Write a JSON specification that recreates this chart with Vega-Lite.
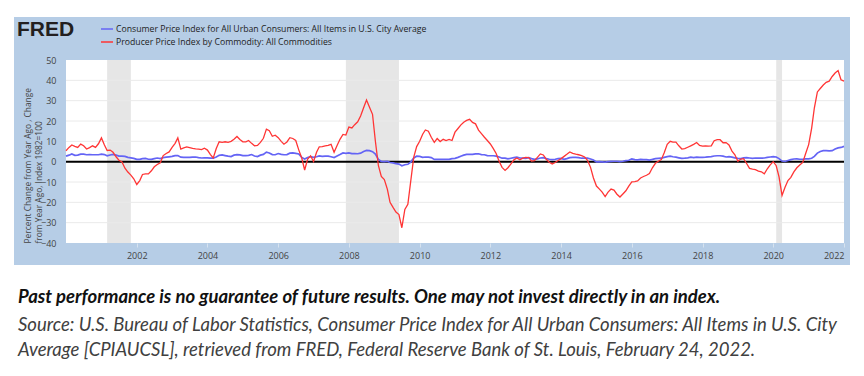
{
  "$schema": "https://vega.github.io/schema/vega-lite/v6.json",
  "width": 778,
  "height": 183,
  "autosize": {"type": "none"},
  "padding": {"left": 66, "top": 60, "right": 20, "bottom": 133},
  "background": "white",
  "view": {"stroke": null, "fill": "white"},
  "config": {
    "font": "Open Sans",
    "axisY": {"tickCount": 10, "labelOverlap": false, "grid": false, "ticks": false, "domain": false},
    "axisX": {"labelOverlap": false, "grid": false, "domain": false}
  },
  "title": {
    "text": "Past performance is no guarantee of future results. One may not invest directly in an index.",
    "subtitle": ["Source: U.S. Bureau of Labor Statistics, Consumer Price Index for All Urban Consumers: All Items in U.S. City", "Average [CPIAUCSL], retrieved from FRED, Federal Reserve Bank of St. Louis, February 24, 2022."],
    "orient": "bottom", "anchor": "start", "frame": "bounds", "offset": 23, "dx": 4,
    "font": "Lato", "fontSize": 18.5, "fontStyle": "italic", "fontWeight": "bold", "color": "#111111",
    "subtitleFont": "Lato", "subtitleFontSize": 18.5, "subtitleFontStyle": "italic", "subtitleFontWeight": "normal",
    "subtitleColor": "#404040", "subtitleLineHeight": 25, "subtitlePadding": 9
  },
  "datasets": {
    "series": [
      {"date":"2000-01-01","cpi":2.7,"ppi":5.4},{"date":"2000-02-01","cpi":3.2,"ppi":7.0},{"date":"2000-03-01","cpi":3.8,"ppi":8.2},{"date":"2000-04-01","cpi":3.1,"ppi":7.5},{"date":"2000-05-01","cpi":3.2,"ppi":7.0},{"date":"2000-06-01","cpi":3.7,"ppi":8.6},{"date":"2000-07-01","cpi":3.7,"ppi":7.8},{"date":"2000-08-01","cpi":3.4,"ppi":6.2},{"date":"2000-09-01","cpi":3.5,"ppi":6.9},{"date":"2000-10-01","cpi":3.4,"ppi":7.8},{"date":"2000-11-01","cpi":3.4,"ppi":7.0},{"date":"2000-12-01","cpi":3.4,"ppi":8.8},
      {"date":"2001-01-01","cpi":3.7,"ppi":11.7},{"date":"2001-02-01","cpi":3.5,"ppi":8.2},{"date":"2001-03-01","cpi":2.9,"ppi":5.5},{"date":"2001-04-01","cpi":3.3,"ppi":5.7},{"date":"2001-05-01","cpi":3.6,"ppi":4.6},{"date":"2001-06-01","cpi":3.2,"ppi":2.4},{"date":"2001-07-01","cpi":2.7,"ppi":0.7},{"date":"2001-08-01","cpi":2.7,"ppi":-0.1},{"date":"2001-09-01","cpi":2.6,"ppi":-3.2},{"date":"2001-10-01","cpi":2.1,"ppi":-5.1},{"date":"2001-11-01","cpi":1.9,"ppi":-6.6},{"date":"2001-12-01","cpi":1.6,"ppi":-8.4},
      {"date":"2002-01-01","cpi":1.1,"ppi":-11.2},{"date":"2002-02-01","cpi":1.1,"ppi":-9.3},{"date":"2002-03-01","cpi":1.5,"ppi":-6.3},{"date":"2002-04-01","cpi":1.6,"ppi":-6.0},{"date":"2002-05-01","cpi":1.2,"ppi":-6.0},{"date":"2002-06-01","cpi":1.1,"ppi":-4.5},{"date":"2002-07-01","cpi":1.5,"ppi":-2.5},{"date":"2002-08-01","cpi":1.8,"ppi":-1.4},{"date":"2002-09-01","cpi":1.5,"ppi":-0.5},{"date":"2002-10-01","cpi":2.0,"ppi":3.0},{"date":"2002-11-01","cpi":2.2,"ppi":4.0},{"date":"2002-12-01","cpi":2.4,"ppi":4.8},
      {"date":"2003-01-01","cpi":2.6,"ppi":7.0},{"date":"2003-02-01","cpi":3.0,"ppi":9.0},{"date":"2003-03-01","cpi":3.0,"ppi":11.7},{"date":"2003-04-01","cpi":2.2,"ppi":6.2},{"date":"2003-05-01","cpi":2.1,"ppi":6.8},{"date":"2003-06-01","cpi":2.1,"ppi":7.3},{"date":"2003-07-01","cpi":2.1,"ppi":6.9},{"date":"2003-08-01","cpi":2.2,"ppi":6.5},{"date":"2003-09-01","cpi":2.3,"ppi":6.3},{"date":"2003-10-01","cpi":2.0,"ppi":6.2},{"date":"2003-11-01","cpi":1.8,"ppi":5.9},{"date":"2003-12-01","cpi":1.9,"ppi":6.6},
      {"date":"2004-01-01","cpi":1.9,"ppi":5.7},{"date":"2004-02-01","cpi":1.7,"ppi":3.5},{"date":"2004-03-01","cpi":1.7,"ppi":1.8},{"date":"2004-04-01","cpi":2.3,"ppi":6.5},{"date":"2004-05-01","cpi":3.1,"ppi":9.8},{"date":"2004-06-01","cpi":3.3,"ppi":9.5},{"date":"2004-07-01","cpi":3.0,"ppi":9.8},{"date":"2004-08-01","cpi":2.7,"ppi":9.5},{"date":"2004-09-01","cpi":2.5,"ppi":10.0},{"date":"2004-10-01","cpi":3.2,"ppi":11.0},{"date":"2004-11-01","cpi":3.5,"ppi":12.4},{"date":"2004-12-01","cpi":3.3,"ppi":10.9},
      {"date":"2005-01-01","cpi":3.0,"ppi":9.8},{"date":"2005-02-01","cpi":3.0,"ppi":9.7},{"date":"2005-03-01","cpi":3.1,"ppi":10.4},{"date":"2005-04-01","cpi":3.5,"ppi":9.0},{"date":"2005-05-01","cpi":2.8,"ppi":7.8},{"date":"2005-06-01","cpi":2.5,"ppi":8.0},{"date":"2005-07-01","cpi":3.2,"ppi":9.5},{"date":"2005-08-01","cpi":3.6,"ppi":11.5},{"date":"2005-09-01","cpi":4.7,"ppi":16.0},{"date":"2005-10-01","cpi":4.3,"ppi":15.2},{"date":"2005-11-01","cpi":3.5,"ppi":12.5},{"date":"2005-12-01","cpi":3.4,"ppi":13.0},
      {"date":"2006-01-01","cpi":4.0,"ppi":11.8},{"date":"2006-02-01","cpi":3.6,"ppi":10.0},{"date":"2006-03-01","cpi":3.4,"ppi":8.6},{"date":"2006-04-01","cpi":3.5,"ppi":9.7},{"date":"2006-05-01","cpi":4.2,"ppi":11.8},{"date":"2006-06-01","cpi":4.3,"ppi":11.4},{"date":"2006-07-01","cpi":4.1,"ppi":10.4},{"date":"2006-08-01","cpi":3.8,"ppi":5.8},{"date":"2006-09-01","cpi":2.1,"ppi":1.8},{"date":"2006-10-01","cpi":1.3,"ppi":-4.1},{"date":"2006-11-01","cpi":2.0,"ppi":1.3},{"date":"2006-12-01","cpi":2.5,"ppi":2.9},
      {"date":"2007-01-01","cpi":2.1,"ppi":0.0},{"date":"2007-02-01","cpi":2.4,"ppi":4.6},{"date":"2007-03-01","cpi":2.8,"ppi":7.3},{"date":"2007-04-01","cpi":2.6,"ppi":7.4},{"date":"2007-05-01","cpi":2.7,"ppi":7.8},{"date":"2007-06-01","cpi":2.7,"ppi":8.0},{"date":"2007-07-01","cpi":2.4,"ppi":8.5},{"date":"2007-08-01","cpi":2.0,"ppi":4.6},{"date":"2007-09-01","cpi":2.8,"ppi":8.0},{"date":"2007-10-01","cpi":3.5,"ppi":11.0},{"date":"2007-11-01","cpi":4.3,"ppi":13.4},{"date":"2007-12-01","cpi":4.1,"ppi":13.1},
      {"date":"2008-01-01","cpi":4.3,"ppi":17.0},{"date":"2008-02-01","cpi":4.0,"ppi":16.6},{"date":"2008-03-01","cpi":4.0,"ppi":18.2},{"date":"2008-04-01","cpi":3.9,"ppi":19.6},{"date":"2008-05-01","cpi":4.2,"ppi":22.5},{"date":"2008-06-01","cpi":5.0,"ppi":26.5},{"date":"2008-07-01","cpi":5.5,"ppi":30.3},{"date":"2008-08-01","cpi":5.4,"ppi":26.8},{"date":"2008-09-01","cpi":4.9,"ppi":23.3},{"date":"2008-10-01","cpi":3.7,"ppi":9.9},{"date":"2008-11-01","cpi":1.1,"ppi":-2.0},{"date":"2008-12-01","cpi":0.1,"ppi":-7.3},
      {"date":"2009-01-01","cpi":0.0,"ppi":-8.8},{"date":"2009-02-01","cpi":0.2,"ppi":-13.5},{"date":"2009-03-01","cpi":-0.4,"ppi":-20.0},{"date":"2009-04-01","cpi":-0.6,"ppi":-22.5},{"date":"2009-05-01","cpi":-1.0,"ppi":-24.8},{"date":"2009-06-01","cpi":-1.2,"ppi":-26.0},{"date":"2009-07-01","cpi":-2.0,"ppi":-32.5},{"date":"2009-08-01","cpi":-1.5,"ppi":-23.5},{"date":"2009-09-01","cpi":-1.3,"ppi":-21.0},{"date":"2009-10-01","cpi":-0.2,"ppi":-9.5},{"date":"2009-11-01","cpi":1.8,"ppi":2.2},{"date":"2009-12-01","cpi":2.7,"ppi":7.4},
      {"date":"2010-01-01","cpi":2.6,"ppi":10.0},{"date":"2010-02-01","cpi":2.1,"ppi":13.5},{"date":"2010-03-01","cpi":2.3,"ppi":15.6},{"date":"2010-04-01","cpi":2.2,"ppi":15.0},{"date":"2010-05-01","cpi":2.0,"ppi":12.0},{"date":"2010-06-01","cpi":1.1,"ppi":9.5},{"date":"2010-07-01","cpi":1.2,"ppi":11.4},{"date":"2010-08-01","cpi":1.1,"ppi":9.9},{"date":"2010-09-01","cpi":1.1,"ppi":11.0},{"date":"2010-10-01","cpi":1.2,"ppi":10.4},{"date":"2010-11-01","cpi":1.1,"ppi":10.9},{"date":"2010-12-01","cpi":1.5,"ppi":10.4},
      {"date":"2011-01-01","cpi":1.6,"ppi":14.5},{"date":"2011-02-01","cpi":2.1,"ppi":16.3},{"date":"2011-03-01","cpi":2.7,"ppi":18.0},{"date":"2011-04-01","cpi":3.2,"ppi":19.4},{"date":"2011-05-01","cpi":3.6,"ppi":20.3},{"date":"2011-06-01","cpi":3.6,"ppi":20.8},{"date":"2011-07-01","cpi":3.6,"ppi":19.3},{"date":"2011-08-01","cpi":3.8,"ppi":18.6},{"date":"2011-09-01","cpi":3.9,"ppi":15.5},{"date":"2011-10-01","cpi":3.5,"ppi":13.8},{"date":"2011-11-01","cpi":3.4,"ppi":12.0},{"date":"2011-12-01","cpi":3.0,"ppi":10.4},
      {"date":"2012-01-01","cpi":2.9,"ppi":8.7},{"date":"2012-02-01","cpi":2.9,"ppi":6.4},{"date":"2012-03-01","cpi":2.7,"ppi":4.0},{"date":"2012-04-01","cpi":2.3,"ppi":0.2},{"date":"2012-05-01","cpi":1.7,"ppi":-2.8},{"date":"2012-06-01","cpi":1.7,"ppi":-4.3},{"date":"2012-07-01","cpi":1.4,"ppi":-3.0},{"date":"2012-08-01","cpi":1.7,"ppi":-1.1},{"date":"2012-09-01","cpi":2.0,"ppi":0.9},{"date":"2012-10-01","cpi":2.2,"ppi":1.8},{"date":"2012-11-01","cpi":1.8,"ppi":0.9},{"date":"2012-12-01","cpi":1.7,"ppi":1.7},
      {"date":"2013-01-01","cpi":1.6,"ppi":2.1},{"date":"2013-02-01","cpi":2.0,"ppi":2.0},{"date":"2013-03-01","cpi":1.5,"ppi":0.3},{"date":"2013-04-01","cpi":1.1,"ppi":0.5},{"date":"2013-05-01","cpi":1.4,"ppi":2.1},{"date":"2013-06-01","cpi":1.8,"ppi":3.8},{"date":"2013-07-01","cpi":2.0,"ppi":3.3},{"date":"2013-08-01","cpi":1.5,"ppi":1.2},{"date":"2013-09-01","cpi":1.2,"ppi":-0.3},{"date":"2013-10-01","cpi":1.0,"ppi":-1.1},{"date":"2013-11-01","cpi":1.2,"ppi":-0.4},{"date":"2013-12-01","cpi":1.5,"ppi":0.6},
      {"date":"2014-01-01","cpi":1.6,"ppi":1.5},{"date":"2014-02-01","cpi":1.1,"ppi":2.6},{"date":"2014-03-01","cpi":1.5,"ppi":3.6},{"date":"2014-04-01","cpi":2.0,"ppi":4.8},{"date":"2014-05-01","cpi":2.1,"ppi":4.1},{"date":"2014-06-01","cpi":2.1,"ppi":3.7},{"date":"2014-07-01","cpi":2.0,"ppi":3.4},{"date":"2014-08-01","cpi":1.7,"ppi":3.0},{"date":"2014-09-01","cpi":1.7,"ppi":2.3},{"date":"2014-10-01","cpi":1.7,"ppi":0.6},{"date":"2014-11-01","cpi":1.3,"ppi":-2.8},{"date":"2014-12-01","cpi":0.8,"ppi":-8.0},
      {"date":"2015-01-01","cpi":-0.1,"ppi":-12.0},{"date":"2015-02-01","cpi":0.0,"ppi":-13.5},{"date":"2015-03-01","cpi":-0.1,"ppi":-15.0},{"date":"2015-04-01","cpi":-0.2,"ppi":-17.2},{"date":"2015-05-01","cpi":0.0,"ppi":-15.0},{"date":"2015-06-01","cpi":0.1,"ppi":-13.5},{"date":"2015-07-01","cpi":0.2,"ppi":-14.0},{"date":"2015-08-01","cpi":0.2,"ppi":-16.0},{"date":"2015-09-01","cpi":0.0,"ppi":-17.4},{"date":"2015-10-01","cpi":0.2,"ppi":-15.9},{"date":"2015-11-01","cpi":0.5,"ppi":-14.3},{"date":"2015-12-01","cpi":0.7,"ppi":-12.0},
      {"date":"2016-01-01","cpi":1.4,"ppi":-9.9},{"date":"2016-02-01","cpi":1.0,"ppi":-9.8},{"date":"2016-03-01","cpi":0.9,"ppi":-9.5},{"date":"2016-04-01","cpi":1.1,"ppi":-8.0},{"date":"2016-05-01","cpi":1.0,"ppi":-7.3},{"date":"2016-06-01","cpi":1.0,"ppi":-6.7},{"date":"2016-07-01","cpi":0.8,"ppi":-5.8},{"date":"2016-08-01","cpi":1.1,"ppi":-3.0},{"date":"2016-09-01","cpi":1.5,"ppi":-0.8},{"date":"2016-10-01","cpi":1.6,"ppi":0.2},{"date":"2016-11-01","cpi":1.7,"ppi":1.0},{"date":"2016-12-01","cpi":2.1,"ppi":4.4},
      {"date":"2017-01-01","cpi":2.5,"ppi":8.5},{"date":"2017-02-01","cpi":2.7,"ppi":10.0},{"date":"2017-03-01","cpi":2.4,"ppi":9.6},{"date":"2017-04-01","cpi":2.2,"ppi":9.6},{"date":"2017-05-01","cpi":1.9,"ppi":7.8},{"date":"2017-06-01","cpi":1.6,"ppi":6.2},{"date":"2017-07-01","cpi":1.7,"ppi":6.4},{"date":"2017-08-01","cpi":1.9,"ppi":7.1},{"date":"2017-09-01","cpi":2.2,"ppi":7.8},{"date":"2017-10-01","cpi":2.0,"ppi":8.5},{"date":"2017-11-01","cpi":2.2,"ppi":9.4},{"date":"2017-12-01","cpi":2.1,"ppi":8.0},
      {"date":"2018-01-01","cpi":2.1,"ppi":7.6},{"date":"2018-02-01","cpi":2.2,"ppi":7.8},{"date":"2018-03-01","cpi":2.4,"ppi":7.6},{"date":"2018-04-01","cpi":2.5,"ppi":7.8},{"date":"2018-05-01","cpi":2.8,"ppi":10.3},{"date":"2018-06-01","cpi":2.9,"ppi":10.8},{"date":"2018-07-01","cpi":2.9,"ppi":10.8},{"date":"2018-08-01","cpi":2.7,"ppi":9.3},{"date":"2018-09-01","cpi":2.3,"ppi":9.4},{"date":"2018-10-01","cpi":2.5,"ppi":8.2},{"date":"2018-11-01","cpi":2.2,"ppi":5.2},{"date":"2018-12-01","cpi":1.9,"ppi":3.4},
      {"date":"2019-01-01","cpi":1.6,"ppi":0.2},{"date":"2019-02-01","cpi":1.5,"ppi":1.3},{"date":"2019-03-01","cpi":1.9,"ppi":1.5},{"date":"2019-04-01","cpi":2.0,"ppi":-0.9},{"date":"2019-05-01","cpi":1.8,"ppi":-3.3},{"date":"2019-06-01","cpi":1.6,"ppi":-3.7},{"date":"2019-07-01","cpi":1.8,"ppi":-3.9},{"date":"2019-08-01","cpi":1.7,"ppi":-4.6},{"date":"2019-09-01","cpi":1.7,"ppi":-5.0},{"date":"2019-10-01","cpi":1.8,"ppi":-6.0},{"date":"2019-11-01","cpi":2.1,"ppi":-3.5},{"date":"2019-12-01","cpi":2.3,"ppi":-1.6},
      {"date":"2020-01-01","cpi":2.5,"ppi":0.0},{"date":"2020-02-01","cpi":2.3,"ppi":-2.0},{"date":"2020-03-01","cpi":1.5,"ppi":-7.5},{"date":"2020-04-01","cpi":0.3,"ppi":-16.6},{"date":"2020-05-01","cpi":0.1,"ppi":-12.7},{"date":"2020-06-01","cpi":0.6,"ppi":-9.3},{"date":"2020-07-01","cpi":1.0,"ppi":-7.7},{"date":"2020-08-01","cpi":1.3,"ppi":-5.0},{"date":"2020-09-01","cpi":1.4,"ppi":-3.0},{"date":"2020-10-01","cpi":1.2,"ppi":-1.6},{"date":"2020-11-01","cpi":1.2,"ppi":-0.4},{"date":"2020-12-01","cpi":1.4,"ppi":4.0},
      {"date":"2021-01-01","cpi":1.4,"ppi":8.4},{"date":"2021-02-01","cpi":1.7,"ppi":16.5},{"date":"2021-03-01","cpi":2.6,"ppi":26.5},{"date":"2021-04-01","cpi":4.2,"ppi":34.3},{"date":"2021-05-01","cpi":5.0,"ppi":36.0},{"date":"2021-06-01","cpi":5.4,"ppi":37.7},{"date":"2021-07-01","cpi":5.4,"ppi":39.0},{"date":"2021-08-01","cpi":5.3,"ppi":39.6},{"date":"2021-09-01","cpi":5.4,"ppi":41.9},{"date":"2021-10-01","cpi":6.2,"ppi":43.6},{"date":"2021-11-01","cpi":6.8,"ppi":44.8},{"date":"2021-12-01","cpi":7.0,"ppi":40.3},
      {"date":"2022-01-01","cpi":7.5,"ppi":39.6}
    ],
    "recessions": [
      {"start":"2001-03-01","end":"2001-11-01"},
      {"start":"2007-12-01","end":"2009-06-01"},
      {"start":"2020-02-01","end":"2020-04-01"}
    ],
    "grid": [{"g":-30},{"g":-20},{"g":-10},{"g":10},{"g":20},{"g":30},{"g":40}],
    "zero": [{"g":0}],
    "panel": [{}],
    "logo": [{"name": "FRED"}]
  },
  "layer": [
    {
      "data": {"name": "panel"},
      "mark": {"type": "rect", "clip": false, "color": "#b6cde6"},
      "encoding": {
        "x": {"datum": {"year": 1998, "month": 7, "date": 13, "utc": true}, "type": "temporal",
              "scale": {"type": "utc", "domain": [{"year": 2000, "month": 1, "date": 1, "utc": true}, {"year": 2022, "month": 1, "date": 1, "utc": true}]}},
        "x2": {"datum": {"year": 2022, "month": 3, "date": 4, "utc": true}},
        "y": {"datum": 71.15, "type": "quantitative", "scale": {"domain": [-40, 50], "nice": false, "zero": false}},
        "y2": {"datum": -50.82}
      }
    },
    {
      "data": {"name": "logo"},
      "mark": {"type": "text", "clip": false, "align": "left", "baseline": "middle", "font": "Liberation Sans", "fontSize": 21, "fontWeight": "bold", "color": "#231f20"},
      "encoding": {
        "x": {"datum": {"year": 1998, "month": 8, "date": 13, "utc": true}, "type": "temporal"},
        "y": {"datum": 64.75, "type": "quantitative"},
        "text": {"field": "name"}
      }
    },
    {
      "data": {"name": "panel"},
      "mark": {"type": "rect", "color": "white"},
      "encoding": {
        "x": {"datum": {"year": 2000, "month": 1, "date": 1, "utc": true}, "type": "temporal"},
        "x2": {"datum": {"year": 2022, "month": 1, "date": 1, "utc": true}}
      }
    },
    {
      "data": {"name": "recessions"},
      "mark": {"type": "rect", "color": "#e6e6e6"},
      "encoding": {
        "x": {"field": "start", "type": "temporal"},
        "x2": {"field": "end"}
      }
    },
    {
      "data": {"name": "grid"},
      "mark": {"type": "rule", "color": "#eaeaea", "strokeWidth": 1},
      "encoding": {"y": {"field": "g", "type": "quantitative"}}
    },
    {
      "data": {"name": "zero"},
      "mark": {"type": "rule", "color": "#000000", "strokeWidth": 2},
      "encoding": {"y": {"field": "g", "type": "quantitative"}}
    },
    {
      "data": {"name": "series"},
      "mark": {"type": "line", "strokeWidth": 1.7},
      "encoding": {
        "x": {"field": "date", "type": "temporal"},
        "y": {"field": "cpi", "type": "quantitative"},
        "color": {"datum": "Consumer Price Index for All Urban Consumers: All Items in U.S. City Average", "type": "nominal"}
      }
    },
    {
      "data": {"name": "series"},
      "mark": {"type": "line", "strokeWidth": 1.3},
      "encoding": {
        "x": {"field": "date", "type": "temporal",
              "axis": {"values": [{"year": 2002, "utc": true}, {"year": 2004, "utc": true}, {"year": 2006, "utc": true}, {"year": 2008, "utc": true}, {"year": 2010, "utc": true}, {"year": 2012, "utc": true}, {"year": 2014, "utc": true}, {"year": 2016, "utc": true}, {"year": 2018, "utc": true}, {"year": 2020, "utc": true}, {"year": 2022, "utc": true}],
                       "format": "%Y", "formatType": "utc", "title": null, "grid": false, "domain": false,
                       "tickSize": 4, "tickColor": "#d6e2ef", "labelFontSize": 9, "labelColor": "#444444",
                       "labelPadding": 4, "labelFlush": true, "labelOverlap": false, "zindex": 1}},
        "y": {"field": "ppi", "type": "quantitative",
              "axis": {"values": [-40, -30, -20, -10, 0, 10, 20, 30, 40, 50], "tickCount": 10, "grid": false, "ticks": false, "domain": false,
                       "labelFontSize": 9, "labelColor": "#444444", "labelPadding": 10, "labelOverlap": false,
                       "title": ["Percent Change from Year Ago , Change", "from Year Ago, Index 1982=100"],
                       "titleFontSize": 8.4, "titleFontWeight": "normal", "titleColor": "#444444",
                       "titleAnchor": "start", "titlePadding": -3, "titleLineHeight": 11, "zindex": 1}},
        "color": {"datum": "Producer Price Index by Commodity: All Commodities", "type": "nominal",
                  "scale": {"domain": ["Consumer Price Index for All Urban Consumers: All Items in U.S. City Average", "Producer Price Index by Commodity: All Commodities"], "range": ["#6464f5", "#ff3535"]},
                  "legend": {"orient": "none", "legendX": 34, "legendY": -38, "title": null,
                             "symbolType": "stroke", "symbolSize": 144, "symbolStrokeWidth": 1.5, "labelOffset": 2,
                             "labelFont": "Open Sans", "labelFontSize": 8.7, "labelLimit": 0, "labelColor": "#222222", "rowPadding": 1, "zindex": 1}}
      }
    }
  ]
}
